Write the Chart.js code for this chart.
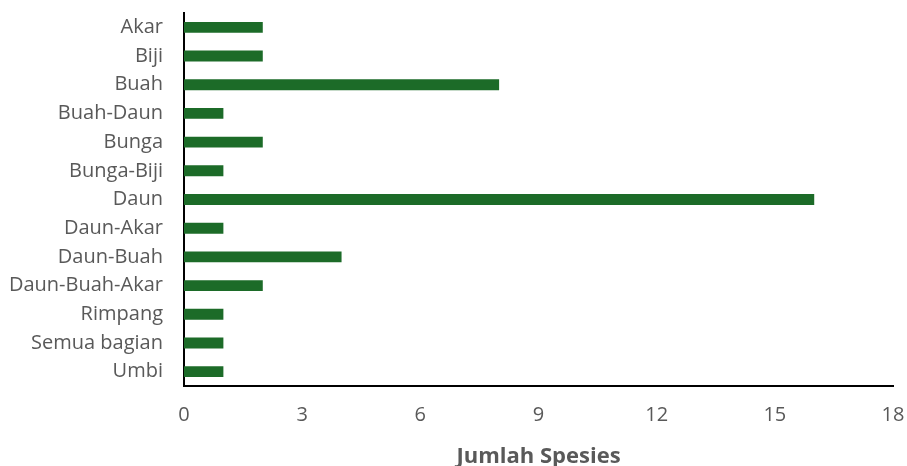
<!DOCTYPE html>
<html>
<head>
<meta charset="utf-8">
<script src="https://cdn.jsdelivr.net/npm/chart.js@4"></script>
<style>
  html, body { margin: 0; padding: 0; background: #fff; }
  #wrap { width: 907px; height: 466px; }
</style>
</head>
<body>
<div id="wrap"><canvas id="barChart" width="907" height="466"></canvas></div>
<script>
// bagian tumbuhan yang dipakai
var categories = ["Akar", "Biji", "Buah", "Buah-Daun", "Bunga", "Bunga-Biji", "Daun",
  "Daun-Akar", "Daun-Buah", "Daun-Buah-Akar", "Rimpang", "Semua bagian", "Umbi"];
var jumlahSpesies = [2, 2, 8, 1, 2, 1, 16, 1, 4, 2, 1, 1, 1];
var xTicks = [0, 3, 6, 9, 12, 15, 18];

var ctx = document.getElementById("barChart").getContext('2d');
var chart = new Chart(ctx, {
  type: 'bar',
  data: {
    labels: categories,
    datasets: [{
      data: jumlahSpesies,
      backgroundColor: "#1c6b28",
      categoryPercentage: 1,
      barPercentage: 0.38
    }]
  },
  options: {
    indexAxis: 'y',
    responsive: false,
    animation: false,
    layout: { padding: { top: 13, right: 14, left: 0, bottom: 0 } },
    plugins: { legend: { display: false }, tooltip: { enabled: false } },
    scales: {
      x: {
        min: 0, max: 18,
        afterBuildTicks: function (s) { s.ticks = xTicks.map(function (v) { return { value: v }; }); },
        afterFit: function (s) { s.height = 80; s.paddingLeft = 0; s.paddingRight = 0; },
        grid: { display: false },
        border: { display: true, color: "#000", width: 2 },
        ticks: { color: "#595959", padding: 9, font: { family: "Open Sans", size: 20 } },
        title: {
          display: true, text: "Jumlah Spesies", color: "#595959",
          padding: { top: 10, bottom: -4 },
          font: { family: "Open Sans", size: 22, weight: 'bold' }
        }
      },
      y: {
        afterFit: function (s) { s.width = 184; s.paddingTop = 0; s.paddingBottom = 0; },
        grid: { display: false },
        border: { display: true, color: "#000", width: 2 },
        ticks: { color: "#595959", padding: 13, font: { family: "Open Sans", size: 20 } }
      }
    }
  }
});
</script>
</body>
</html>
